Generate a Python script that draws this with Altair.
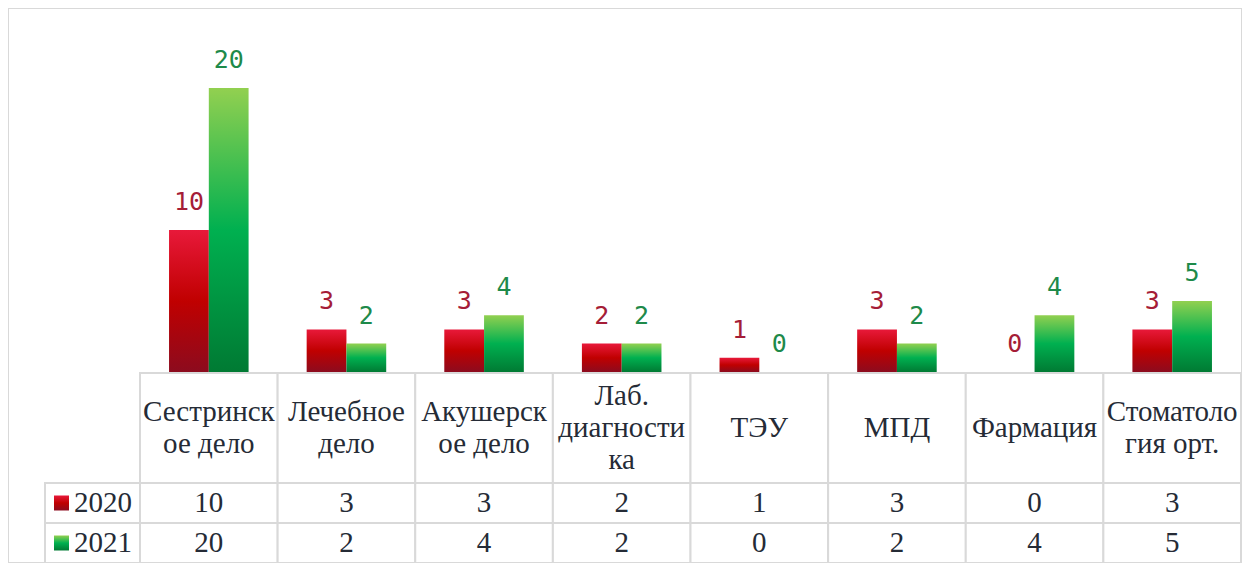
import altair as alt
import pandas as pd

# ---- data ----
categories = ["Сестринское дело", "Лечебное дело", "Акушерское дело", "Лаб. диагностика",
              "ТЭУ", "МПД", "Фармация", "Стоматология орт."]
header_labels = ["Сестринск\nое дело", "Лечебное\nдело", "Акушерск\nое дело", "Лаб.\nдиагности\nка",
                 "ТЭУ", "МПД", "Фармация", "Стоматоло\nгия орт."]
years = ["2020", "2021"]
values_2020 = [10, 3, 3, 2, 1, 3, 0, 3]
values_2021 = [20, 2, 4, 2, 0, 2, 4, 5]

rows = []
for c, v in zip(categories, values_2020):
    rows.append({"cat": c, "year": "2020", "value": v})
for c, v in zip(categories, values_2021):
    rows.append({"cat": c, "year": "2021", "value": v})
df = pd.DataFrame(rows)
hdr = pd.DataFrame({"cat": categories, "label": header_labels, "row": "h",
                    "nlines": [l.count("\n") + 1 for l in header_labels]})
leg = pd.DataFrame({"year": years, "col": "lab"})
leg_items = pd.DataFrame({"year": years, "swatch": "swatch", "label": "label"})

# ---- styles ----
red_grad = alt.LinearGradient(gradient="linear", x1=0, y1=0, x2=0, y2=1,
                              stops=[alt.GradientStop(color="#e8193a", offset=0),
                                     alt.GradientStop(color="#c00000", offset=0.5),
                                     alt.GradientStop(color="#8c0b1e", offset=1)])
green_grad = alt.LinearGradient(gradient="linear", x1=0, y1=0, x2=0, y2=1,
                                stops=[alt.GradientStop(color="#92d050", offset=0),
                                       alt.GradientStop(color="#00b050", offset=0.5),
                                       alt.GradientStop(color="#007a33", offset=1)])
RED_TXT = "#a51d37"
GREEN_TXT = "#1e8a4a"
GRID = "#d9d9d9"
TXT = "#252b36"
SERIF = "Liberation Serif"
MONO = "DejaVu Sans Mono"
FS = 29
LH = 32

W, H = 1234, 555
x_cat = alt.Scale(domain=categories, range=[132, 1233], paddingInner=0, paddingOuter=0)
x_off = alt.Scale(domain=years, paddingInner=0, paddingOuter=0.73)
y_bar = alt.Scale(domain=[0, 25.63], range=[364, 0], nice=False, zero=True)
y_hdr = alt.Scale(domain=["h"], range=[365, 475], paddingInner=0, paddingOuter=0)
y_row = alt.Scale(domain=years, range=[475, 555], paddingInner=0, paddingOuter=0)
x_lab = alt.Scale(domain=["lab"], range=[37, 132], paddingInner=0, paddingOuter=0)
x_item = alt.Scale(type="point", domain=["swatch", "label"], range=[53.5, 95], padding=0)

X = alt.X("cat:N", scale=x_cat, axis=None)
XO = alt.XOffset("year:N", scale=x_off)
YB = alt.Y("value:Q", scale=y_bar, axis=None)

base = alt.Chart(df)
b20 = base.transform_filter("datum.year == '2020'")
b21 = base.transform_filter("datum.year == '2021'")

bars = alt.layer(
    b20.mark_bar(fill=red_grad).encode(x=X, xOffset=XO, y=YB),
    b21.mark_bar(fill=green_grad).encode(x=X, xOffset=XO, y=YB),
    b20.mark_text(font=MONO, fontSize=25, baseline="alphabetic", dy=-20, color=RED_TXT)
       .encode(x=X, xOffset=XO, y=YB, text="value:Q"),
    b21.mark_text(font=MONO, fontSize=25, baseline="alphabetic", dy=-20, color=GREEN_TXT)
       .encode(x=X, xOffset=XO, y=YB, text="value:Q"),
)

hc = alt.Chart(hdr)
YH = alt.Y("row:N", scale=y_hdr, axis=None)
header_layers = [hc.mark_rect(fill="white", stroke=GRID, strokeWidth=2).encode(x=X, y=YH)]
for n in (1, 2, 3):
    header_layers.append(
        hc.transform_filter(f"datum.nlines == {n}")
          .mark_text(font=SERIF, fontSize=FS, lineBreak="\n", lineHeight=LH, color=TXT,
                     baseline="middle", dy=-(n - 1) * LH / 2)
          .encode(x=X, y=YH, text="label:N")
    )
header = alt.layer(*header_layers)

YR = alt.Y("year:N", scale=y_row, axis=None)
table = alt.layer(
    base.mark_rect(fill="white", stroke=GRID, strokeWidth=2).encode(x=X, y=YR),
    base.mark_text(font=SERIF, fontSize=FS, color=TXT, baseline="middle").encode(x=X, y=YR, text="value:Q"),
)

legend_cells = alt.Chart(leg).mark_rect(fill="white", stroke=GRID, strokeWidth=2).encode(
    x=alt.X("col:N", scale=x_lab, axis=None), y=YR)

li = alt.Chart(leg_items)
XS = alt.X("swatch:N", scale=x_item, axis=None)
XT = alt.X("label:N", scale=x_item, axis=None)
legend_items = alt.layer(
    li.transform_filter("datum.year == '2020'").mark_square(size=225, fill=red_grad, opacity=1)
      .encode(x=XS, y=YR),
    li.transform_filter("datum.year == '2021'").mark_square(size=225, fill=green_grad, opacity=1)
      .encode(x=XS, y=YR),
    li.mark_text(font=SERIF, fontSize=FS, color=TXT, baseline="middle").encode(x=XT, y=YR, text="year:N"),
)

chart = alt.layer(bars, header, table, legend_cells, legend_items).resolve_scale(
    x="independent", y="independent"
).properties(
    width=W, height=H, padding=0, autosize=alt.AutoSizeParams(type="none"), background="white"
).configure_view(stroke=GRID, strokeWidth=2)

chart.save("out.html", embed_options={"renderer": "svg", "actions": False})
